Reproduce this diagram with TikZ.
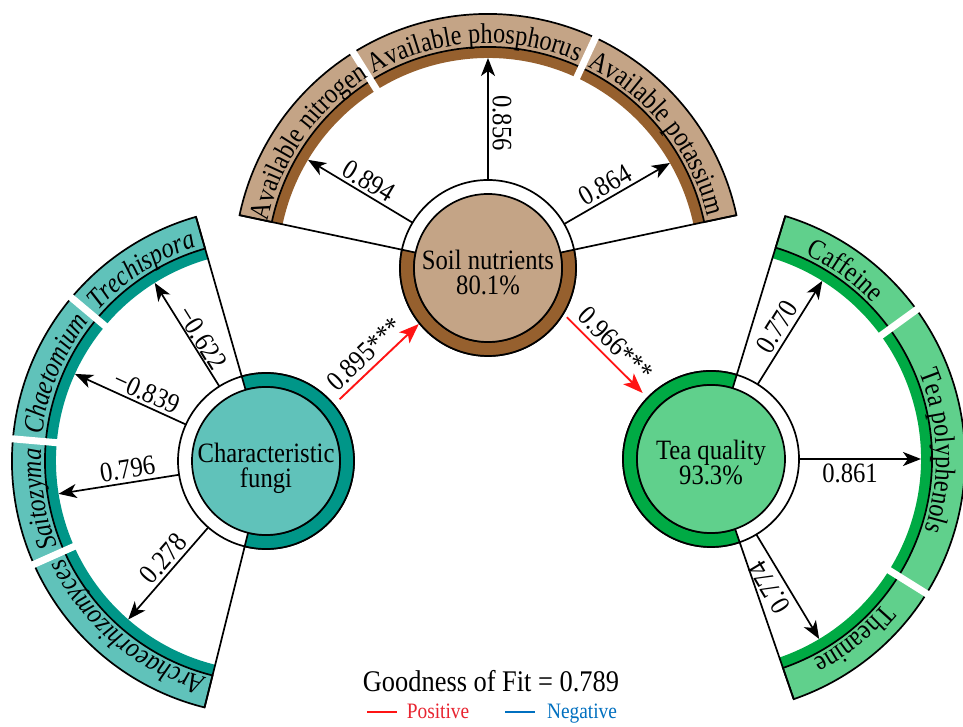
\documentclass[tikz,border=0pt]{standalone}
\usepackage{fontspec}
\setmainfont{Liberation Serif}[FakeStretch=0.88]
\newfontfamily\arcfont{Liberation Serif}[FakeStretch=0.85]
\usetikzlibrary{calc,decorations.text,arrows.meta}
\definecolor{soilL}{RGB}{196,164,134}
\definecolor{soilD}{RGB}{150,96,46}
\definecolor{funL}{RGB}{96,194,186}
\definecolor{funD}{RGB}{0,150,136}
\definecolor{teaL}{RGB}{96,208,140}
\definecolor{teaD}{RGB}{0,170,68}
\definecolor{posR}{RGB}{255,20,20}
\definecolor{posT}{RGB}{232,36,48}
\definecolor{negB}{RGB}{0,112,192}
\newcommand{\hubring}[5]{%
  \draw[hubline, fill=white] (#1) circle[radius=88];
  \draw[hubline, fill=#3] ($(#1)+(#4:88)$) arc[start angle=#4, end angle=#5, radius=88]
     -- ($(#1)+(#5:74)$) arc[start angle=#5, end angle=#4, radius=74] -- cycle;
  \draw[hubline, fill=#2] (#1) circle[radius=74];
}
\newcommand{\bandarc}[5]{%
  \fill[#4] ($(#1)+(#2:254)$) arc[start angle=#2, end angle=#3, radius=254]
     -- ($(#1)+(#3:221)$) arc[start angle=#3, end angle=#2, radius=221] -- cycle;
  \fill[#5] ($(#1)+(#2:221)$) arc[start angle=#2, end angle=#3, radius=221]
     -- ($(#1)+(#3:210)$) arc[start angle=#3, end angle=#2, radius=210] -- cycle;
  \draw[bandline] ($(#1)+(#2:254)$) arc[start angle=#2, end angle=#3, radius=254]
     -- ($(#1)+(#3:221)$) arc[start angle=#3, end angle=#2, radius=221] -- cycle;
}
\newcommand{\bandgap}[2]{\draw[gapline] ($(#1)+(#2:204)$) -- ($(#1)+(#2:260)$);}
\newcommand{\arctext}[5]{%
  \path[decorate, decoration={text along path, text align=center, text={|#4|#5}}]
     ($(#1)+(#2:225)$) arc[start angle=#2, end angle=#3, radius=225];}
\newcommand{\fanline}[2]{\draw[fan] ($(#1)+(#2:88)$) -- ($(#1)+(#2:254)$);}
\newcommand{\hubarrow}[2]{\draw[arr] ($(#1)+(#2:88)$) -- ($(#1)+(#2:210)$);}
\begin{document}
\begin{tikzpicture}[x=1pt,y=1pt,
  hubline/.style={line width=1.7pt, draw=black},
  bandline/.style={line width=1.7pt, draw=black},
  gapline/.style={white, line width=7pt},
  fan/.style={line width=1.7pt},
  arr/.style={line width=1.7pt, -{Stealth[length=18pt,width=14pt,inset=5pt]}},
  posarr/.style={line width=1.9pt, posR, -{Stealth[length=20pt,width=15pt,inset=5pt]}},
  lab/.style={font=\fontsize{28}{28}\selectfont, inner sep=0pt},
  hubtext/.style={font=\fontsize{28}{25}\selectfont, align=center, inner sep=0pt}]
\useasboundingbox (0,0) rectangle (963,727);
\fill[white] (0,0) rectangle (963,727);
\coordinate (soil) at (488,459);
\coordinate (fungi) at (266,266);
\coordinate (tea) at (711,268);
% bands
\bandarc{soil}{168}{12}{soilL}{soilD}
\bandarc{fungi}{256}{106}{funL}{funD}
\bandarc{tea}{73}{-71}{teaL}{teaD}
\bandgap{soil}{122}\bandgap{soil}{65}
\bandgap{fungi}{140}\bandgap{fungi}{175}\bandgap{fungi}{204}
\bandgap{tea}{36}\bandgap{tea}{-32}
% fan lines
\fanline{soil}{168}\fanline{soil}{12}
\fanline{fungi}{106}\fanline{fungi}{256}
\fanline{tea}{73}\fanline{tea}{-71}
% hubs
\hubring{soil}{soilL}{soilD}{168}{372}
\hubring{fungi}{funL}{funD}{256}{466}
\hubring{tea}{teaL}{teaD}{73}{289}
% arc texts
\arctext{soil}{176}{114}{\arcfont\fontsize{28.5}{28}\selectfont}{Available nitrogen}
\arctext{soil}{122}{65}{\arcfont\fontsize{28.5}{28}\selectfont}{Available phosphorus}
\arctext{soil}{73}{4}{\arcfont\fontsize{28.5}{28}\selectfont}{Available potassium}
\arctext{fungi}{146}{100}{\arcfont\fontsize{28.5}{28}\selectfont\itshape}{Trechispora}
\arctext{fungi}{181}{134}{\arcfont\fontsize{28.5}{28}\selectfont\itshape}{Chaetomium}
\arctext{fungi}{210}{169}{\arcfont\fontsize{28.5}{28}\selectfont\itshape}{Saitozyma}
\arctext{fungi}{264}{196}{\arcfont\fontsize{28.5}{28}\selectfont\itshape}{Archaeorhizomyces}
\arctext{tea}{81}{28}{\arcfont\fontsize{28.5}{28}\selectfont}{Caffeine}
\arctext{tea}{40}{-36}{\arcfont\fontsize{28.5}{28}\selectfont}{Tea polyphenols}
\arctext{tea}{-24}{-79}{\arcfont\fontsize{28.5}{28}\selectfont}{Theanine}
% hub arrows
\hubarrow{soil}{149}\hubarrow{soil}{90}\hubarrow{soil}{30}
\hubarrow{fungi}{122}\hubarrow{fungi}{155.5}\hubarrow{fungi}{189}\hubarrow{fungi}{229}
\hubarrow{tea}{58}\hubarrow{tea}{0}\hubarrow{tea}{-59}
% labels
\node[lab, rotate=-31] (l894) at ($(soil)+(149:147)+(59:13)$) {0.894};
\node[lab, rotate=-90] (l856) at ($(soil)+(90:145)+(0:14)$) {0.856};
\node[lab, rotate=30] (l864) at ($(soil)+(30:143)+(120:13)$) {0.864};
\node[lab, rotate=-58] (l622) at ($(fungi)+(122:138)+(32:11)$) {−0.622};
\node[lab, rotate=-24.5] (l839) at ($(fungi)+(155.5:137)+(65.5:13)$) {−0.839};
\node[lab, rotate=9] (l796) at ($(fungi)+(189:138)+(99:13.5)$) {0.796};
\node[lab, rotate=49] (l278) at ($(fungi)+(229:141)+(139:13.5)$) {0.278};
\node[lab, rotate=58] (l770) at ($(tea)+(58:147)+(148:14)$) {0.770};
\node[lab] (l861) at ($(tea)+(0:139)+(-90:14)$) {0.861};
\node[lab, rotate=121] (l774) at ($(tea)+(-59:140)+(211:16)$) {0.774};
% hub texts
\node[hubtext] (soiltxt) at (488,455) {Soil nutrients\\80.1\%};
\node[hubtext] (fungitxt) at (266,259) {Characteristic\\fungi};
\node[hubtext] (teatxt) at (711,265) {Tea quality\\93.3\%};
% red paths
\coordinate (r1s) at ($(fungi)+(40:96)$);
\coordinate (r1e) at ($(soil)+(219:89)$);
\coordinate (r2s) at ($(soil)+(-32:93)$);
\coordinate (r2e) at ($(tea)+(136:95)$);
\draw[posarr] (r1s) -- node[pos=0.45, sloped, above=5pt, lab, text=black] (l895) {0.895***} (r1e);
\draw[posarr] (r2s) -- node[pos=0.5, sloped, above=5pt, lab, text=black] (l966) {0.966***} (r2e);
% legend
\node[font=\fontsize{30}{30}\selectfont, anchor=base, inner sep=0pt] (gof) at (491,35) {Goodness of Fit = 0.789};
\coordinate (pl1) at (367,15); \coordinate (pl2) at (397,15);
\coordinate (nl1) at (505,15); \coordinate (nl2) at (535,15);
\draw[posR, line width=2pt] (pl1) -- (pl2);
\draw[negB, line width=2pt] (nl1) -- (nl2);
\node[font=\fontsize{22}{22}\selectfont, text=posT, anchor=base, inner sep=0pt] (pos) at (438,8) {Positive};
\node[font=\fontsize{22}{22}\selectfont, text=negB, anchor=base, inner sep=0pt] (neg) at (582,8) {Negative};
\end{tikzpicture}
\end{document}
